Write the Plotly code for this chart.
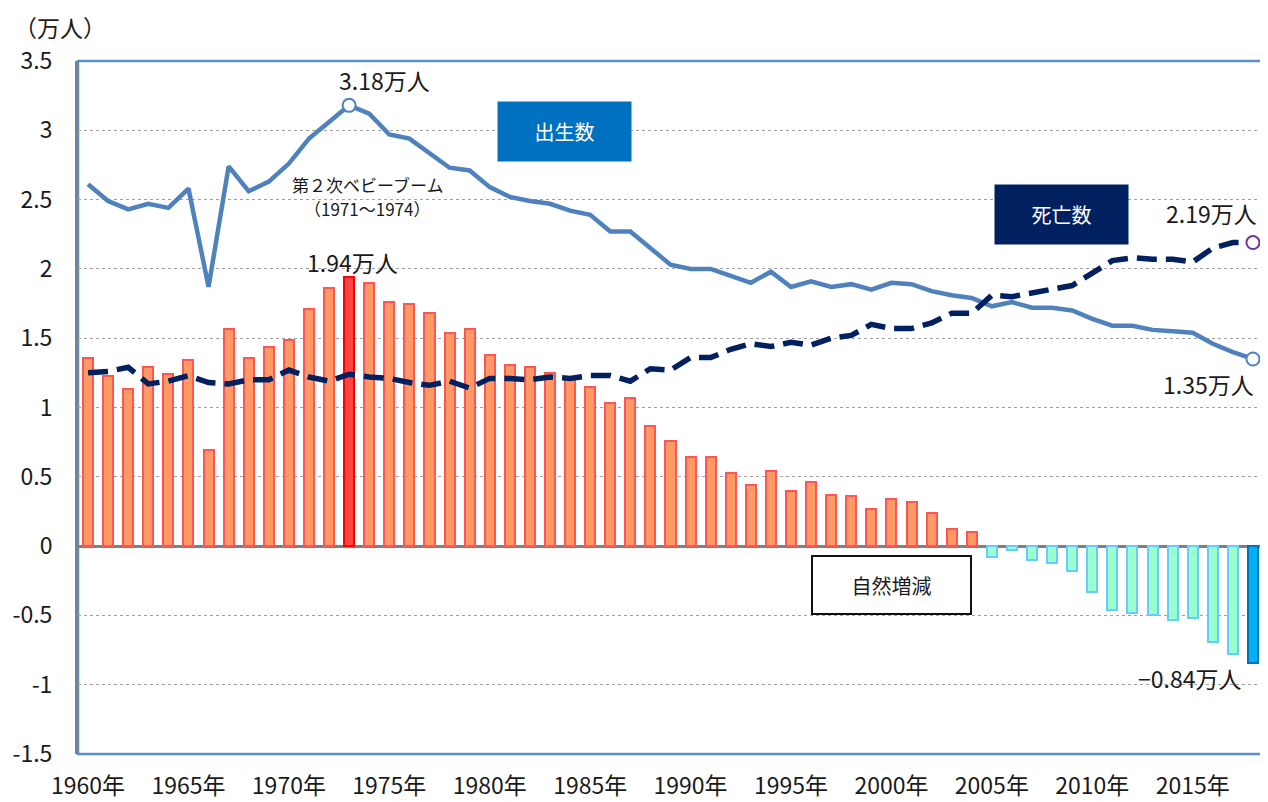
import plotly.graph_objects as go

# data (unit: 万人)
years = list(range(1960, 2019))
births = [2.61, 2.49, 2.43, 2.47, 2.44, 2.58, 1.87, 2.74, 2.56, 2.63,
          2.76, 2.94, 3.06, 3.18, 3.12, 2.97, 2.94, 2.83, 2.73, 2.71,
          2.59, 2.52, 2.49, 2.47, 2.42, 2.39, 2.27, 2.27, 2.15, 2.03,
          2.00, 2.00, 1.95, 1.90, 1.98, 1.87, 1.91, 1.87, 1.89, 1.85,
          1.90, 1.89, 1.84, 1.81, 1.79, 1.73, 1.76, 1.72, 1.72, 1.70,
          1.64, 1.59, 1.59, 1.56, 1.55, 1.54, 1.46, 1.40, 1.35]
deaths = [1.25, 1.26, 1.29, 1.17, 1.19, 1.23, 1.18, 1.17, 1.20, 1.20,
          1.27, 1.22, 1.19, 1.24, 1.22, 1.21, 1.18, 1.16, 1.19, 1.14,
          1.21, 1.21, 1.20, 1.22, 1.21, 1.23, 1.23, 1.19, 1.28, 1.27,
          1.36, 1.36, 1.42, 1.46, 1.44, 1.47, 1.45, 1.50, 1.52, 1.60,
          1.57, 1.57, 1.61, 1.68, 1.68, 1.81, 1.80, 1.83, 1.85, 1.88,
          1.97, 2.06, 2.08, 2.07, 2.07, 2.05, 2.15, 2.19, 2.19]
natural = [1.36, 1.23, 1.13, 1.29, 1.24, 1.34, 0.69, 1.57, 1.36, 1.44,
           1.49, 1.71, 1.86, 1.94, 1.90, 1.76, 1.75, 1.68, 1.54, 1.57,
           1.38, 1.31, 1.29, 1.25, 1.22, 1.15, 1.03, 1.07, 0.87, 0.76,
           0.64, 0.64, 0.53, 0.44, 0.54, 0.40, 0.46, 0.37, 0.36, 0.27,
           0.34, 0.32, 0.24, 0.12, 0.10, -0.08, -0.03, -0.10, -0.12, -0.18,
           -0.33, -0.46, -0.48, -0.50, -0.53, -0.52, -0.69, -0.78, -0.84]
tick_years = list(range(1960, 2019, 5))
tick_labels = ["{}年".format(y) for y in tick_years]
y_ticks = [3.5, 3, 2.5, 2, 1.5, 1, 0.5, 0, -0.5, -1, -1.5]
y_tick_labels = ["3.5", "3", "2.5", "2", "1.5", "1", "0.5", "0", "-0.5", "-1", "-1.5"]

FONT = "Noto Sans CJK JP"
birth_color = "#4F81BD"
death_color = "#002060"

peak_i = births.index(max(births))
nat_peak_i = natural.index(max(natural))
last_i = len(years) - 1

fill_colors = []
line_colors = []
for i, v in enumerate(natural):
    if i == last_i:
        fill_colors.append("#00B0F0")
        line_colors.append("#0070C0")
    elif i == nat_peak_i:
        fill_colors.append("#FF4444")
        line_colors.append("#FF0000")
    elif v >= 0:
        fill_colors.append("#FF9966")
        line_colors.append("#FF5555")
    else:
        fill_colors.append("#99FFCC")
        line_colors.append("#66CCFF")

fig = go.Figure()

fig.add_trace(go.Bar(
    x=years, y=natural, width=0.5,
    marker=dict(color=fill_colors, line=dict(color=line_colors, width=2)),
    name="自然増減",
))

fig.add_trace(go.Scatter(
    x=years, y=births, mode="lines",
    line=dict(color=birth_color, width=4.5),
    name="出生数",
))

fig.add_trace(go.Scatter(
    x=years, y=deaths, mode="lines",
    line=dict(color=death_color, width=5.5, dash="20px,9px"),
    name="死亡数",
))

# open markers on highlighted points
fig.add_trace(go.Scatter(
    x=[years[peak_i], years[last_i]], y=[births[peak_i], births[last_i]],
    mode="markers", cliponaxis=False,
    marker=dict(size=13, color="white", line=dict(color=birth_color, width=2)),
))
fig.add_trace(go.Scatter(
    x=[years[last_i]], y=[deaths[last_i]],
    mode="markers", cliponaxis=False,
    marker=dict(size=13, color="white", line=dict(color="#7030A0", width=2)),
))

# plot area frame
fig.add_shape(type="rect", xref="paper", yref="paper", x0=0, x1=1, y0=0, y1=1,
              line=dict(color="#5B8FCB", width=2.5), layer="below")

txt = dict(family=FONT, size=23, color="#1a1a1a")
small = dict(family=FONT, size=17, color="#1a1a1a")

fig.add_annotation(x=years[peak_i], y=births[peak_i], text="{:.2f}万人".format(births[peak_i]),
                   showarrow=False, font=txt, yanchor="bottom", xshift=35, yshift=6)
fig.add_annotation(x=years[nat_peak_i], y=natural[nat_peak_i], text="{:.2f}万人".format(natural[nat_peak_i]),
                   showarrow=False, font=txt, yanchor="bottom", xshift=3, yshift=-4)
fig.add_annotation(x=years[last_i], y=deaths[last_i], text="{:.2f}万人".format(deaths[last_i]),
                   showarrow=False, font=txt, xanchor="right", xshift=6, yshift=30)
fig.add_annotation(x=years[last_i], y=births[last_i], text="{:.2f}万人".format(births[last_i]),
                   showarrow=False, font=txt, xanchor="right", xshift=3, yshift=-25)
fig.add_annotation(x=years[last_i], y=natural[last_i], text="−{:.2f}万人".format(-natural[last_i]),
                   showarrow=False, font=txt, xanchor="right", xshift=-10, yshift=-15)
fig.add_annotation(x=years[peak_i], y=2.52, text="第２次ベビーブーム",
                   showarrow=False, xshift=18, yshift=12, font=small)
fig.add_annotation(x=years[peak_i], y=2.52, text="（1971～1974）",
                   showarrow=False, xshift=18, yshift=-12, font=small)
fig.add_annotation(xref="paper", yref="paper", x=0, y=1, xanchor="left", yanchor="middle",
                   xshift=-66, yshift=34, text="（万人）", showarrow=False, font=txt)

# label boxes
fig.add_annotation(x=1983.7, y=2.99, text="出生数", showarrow=False,
                   width=133, height=59, bgcolor="#0070C0", borderpad=0,
                   font=dict(family=FONT, size=20, color="white"))
fig.add_annotation(x=2008.45, y=2.39, text="死亡数", showarrow=False,
                   width=133, height=59, bgcolor="#002060", borderpad=0,
                   font=dict(family=FONT, size=20, color="white"))
fig.add_annotation(x=2000.0, y=-0.28, text="自然増減", showarrow=False,
                   width=157, height=56, bgcolor="white", bordercolor="#111111",
                   borderwidth=2, borderpad=0,
                   font=dict(family=FONT, size=20, color="#1a1a1a"))

# page body has an 8px margin, so the figure is a bit smaller than the window
fig.update_layout(
    width=1260, height=794,
    margin=dict(l=70, r=5, t=53, b=48, autoexpand=False),
    plot_bgcolor="white", paper_bgcolor="white",
    showlegend=False, bargap=0,
    font=dict(family=FONT, size=23, color="#1a1a1a"),
)
fig.update_xaxes(
    range=[1959.5, 2018.5], tickvals=tick_years, ticktext=tick_labels,
    showgrid=False, showline=False, zeroline=False, ticks="", automargin=False,
    ticklabelstandoff=16, tickfont=dict(family=FONT, size=23, color="#1a1a1a"),
)
fig.update_yaxes(
    range=[-1.5, 3.5], tickvals=y_ticks, ticktext=y_tick_labels,
    showgrid=True, gridcolor="#A0A0A0", gridwidth=1, griddash="dot",
    zeroline=True, zerolinecolor="#808080", zerolinewidth=2.5,
    showline=True, linecolor="#808080", linewidth=3, ticks="", automargin=False,
    ticklabelstandoff=18, tickfont=dict(family=FONT, size=23, color="#1a1a1a"),
)

fig.write_html("out.html")
